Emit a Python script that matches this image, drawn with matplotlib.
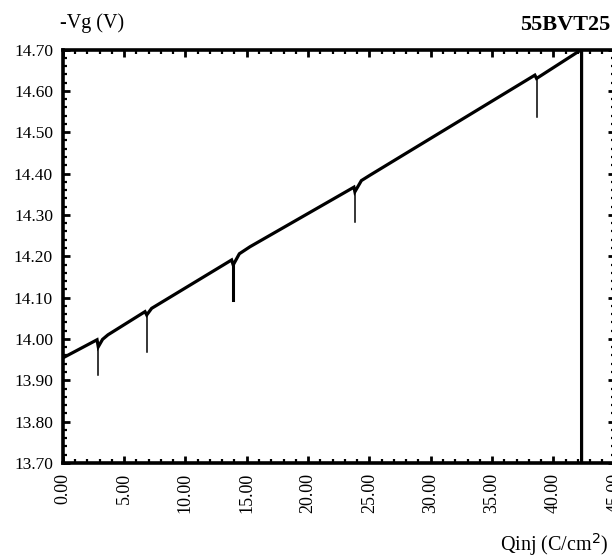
import matplotlib
matplotlib.use("Agg")
import matplotlib.pyplot as plt
from matplotlib.ticker import MultipleLocator, FormatStrFormatter

# Main Vg trace (continuous stress curve, with recovery steps)
qinj = [0.0, 2.80, 2.90, 3.25, 3.69, 6.71, 6.85, 7.25, 13.77, 13.90, 14.4, 15.27,
        23.74, 23.82, 24.35, 25.05, 38.49, 38.63, 42.30, 42.30]
vg = [13.954, 13.998, 13.981, 13.999, 14.010, 14.066, 14.058, 14.074, 14.191,
      14.179, 14.206, 14.223, 14.367, 14.356, 14.383, 14.396, 14.638, 14.630,
      14.700, 13.700]

# Downward spikes at interruptions
spike_x = [2.90, 6.85, 13.90, 23.82, 38.63]
spike_top = [13.981, 14.058, 14.179, 14.356, 14.630]
spike_bottom = [13.913, 13.969, 14.094, 14.284, 14.537]
spike_lw = [1.1, 1.1, 2.2, 1.1, 1.1]

x_ticks = [0, 5, 10, 15, 20, 25, 30, 35, 40, 45]
y_ticks = [13.70, 13.80, 13.90, 14.00, 14.10, 14.20, 14.30, 14.40, 14.50, 14.60, 14.70]

plt.rcParams['font.family'] = ['Liberation Serif', 'DejaVu Serif']

fig = plt.figure(figsize=(6.12, 5.59), dpi=100)
ax = fig.add_axes([62.7 / 612, 96 / 559, 552 / 612, 413.5 / 559])

ax.plot(qinj, vg, color='black', lw=2.3, solid_joinstyle='miter')
for x, t, b, w in zip(spike_x, spike_top, spike_bottom, spike_lw):
    ax.plot([x, x], [b, t], color='black', lw=w)

ax.set_xlim(0, 45)
ax.set_ylim(13.70, 14.70)
ax.set_xticks(x_ticks)
ax.set_yticks(y_ticks)
ax.xaxis.set_major_formatter(FormatStrFormatter('%.2f'))
ax.yaxis.set_major_formatter(FormatStrFormatter('%.2f'))
ax.xaxis.set_minor_locator(MultipleLocator(1))
ax.yaxis.set_minor_locator(MultipleLocator(0.02))

ax.tick_params(which='both', direction='in', top=True, right=True, color='black')
ax.tick_params(which='major', length=5, width=2)
ax.tick_params(which='minor', length=3, width=1.6)
ax.tick_params(axis='y', labelsize=12.5, pad=7)
ax.tick_params(axis='x', labelsize=13, pad=7, labelrotation=90)

for s in ax.spines.values():
    s.set_linewidth(2.6)

fig.text(60 / 612, 1 - 23 / 559, '-Vg (V)', fontsize=14.5, ha='left', va='center')
fig.text(520 / 612, 1 - 25 / 559, '55BVT25', fontsize=16, fontweight='bold',
         ha='left', va='center')
fig.text(500 / 612, 1 - 545 / 559, 'Qinj (C/cm$^2$)', fontsize=14.5,
         ha='left', va='center')

fig.savefig('out.png', dpi=100)
